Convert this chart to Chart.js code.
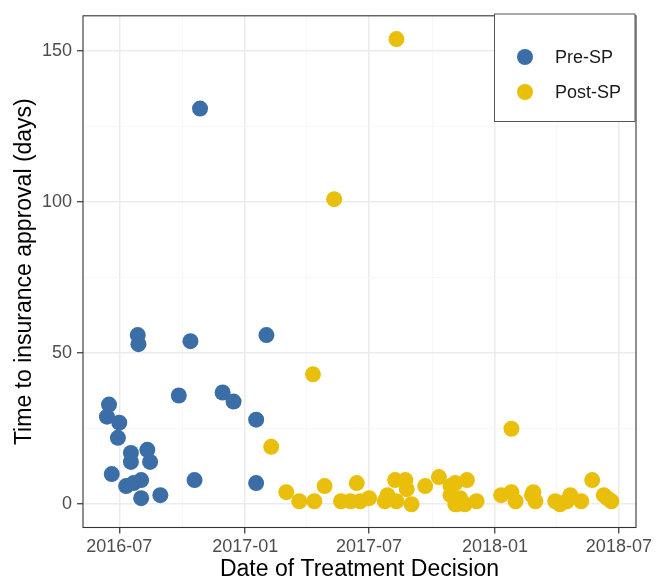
<!DOCTYPE html>
<html><head><meta charset="utf-8">
<script src="https://cdn.jsdelivr.net/npm/chart.js@4"></script>
<style>html,body{margin:0;padding:0;background:#fff}</style>
</head><body>
<canvas id="c" width="656" height="583"></canvas>
<script>
const seriesNames = ["Pre-SP", "Post-SP"];
const preDates = ["2016-07-28","2016-07-29","2016-10-13","2017-02-01","2016-09-26","2016-11-29","2016-12-15","2017-01-17",
  "2016-06-16","2016-06-13","2016-07-01","2016-06-29","2016-07-18","2016-08-11","2016-07-18","2016-08-15",
  "2016-06-20","2016-10-19","2017-01-17","2016-07-11","2016-07-22","2016-08-02","2016-08-02","2016-08-30","2016-10-27"];
const preDays = [56,53,54,56,36,37,34,28,33,29,27,22,17,18,14,14,10,8,7,6,7,8,2,3,131];
const postDates = ["2017-08-10","2017-05-11","2017-04-10","2018-01-25","2017-02-08","2017-03-02","2017-03-21","2017-04-12",
  "2017-04-27","2017-05-21","2017-06-04","2017-06-13","2017-06-18","2017-07-01","2017-07-24","2017-07-28","2017-08-08",
  "2017-08-23","2017-08-10","2017-08-25","2017-09-01","2017-09-21","2017-10-11","2017-10-28","2017-11-04","2017-11-04",
  "2017-11-21","2017-10-28","2017-11-11","2017-11-06","2017-11-18","2017-12-05","2018-01-10","2018-01-25","2018-01-31",
  "2018-02-26","2018-02-24","2018-03-01","2018-03-30","2018-04-06","2018-04-21","2018-04-16","2018-05-07","2018-05-23",
  "2018-06-09","2018-06-20","2018-06-14"];
const postDays = [154,101,43,25,19,4,1,1,6,1,1,7,1,2,1,3,8,8,1,5,0,6,9,6,0,7,8,3,2,0,0,1,3,4,1,4,3,1,1,0,3,1,1,8,3,1,2];
const xTickLabels = ["2016-07","2017-01","2017-07","2018-01","2018-07"];
const xMinorLabels = ["2016-10","2017-04","2017-10","2018-04"];
const yTickValues = [0,50,100,150];
const yMinorValues = [25,75,125];
const xRange = ["2016-05-09","2018-07-26"];
const yRange = [-7.7,161.7];
const colors = ["#3B6DA7","#EABF0B"];

function dayNum(s){ const p=s.split("-").map(Number); return Date.UTC(p[0],p[1]-1,p[2]||1)/86400000; }
function dayLabel(v){ const d=new Date(v*86400000); return d.getUTCFullYear()+"-"+String(d.getUTCMonth()+1).padStart(2,"0"); }
const xMajor = xTickLabels.map(dayNum), xMinor = xMinorLabels.map(dayNum);
const FONT = "'Liberation Sans', Arial, Helvetica, sans-serif";

const panelPlugin = {
  id: 'panel',
  afterDraw(chart){
    const {ctx, chartArea:a} = chart;
    ctx.save();
    ctx.strokeStyle = '#333333'; ctx.lineWidth = 1.1;
    ctx.strokeRect(a.left, a.top, a.right-a.left, a.bottom-a.top);
    const bx=494.5, by=14, bw=140.5, bh=107.5;
    ctx.fillStyle='#fff'; ctx.fillRect(bx,by,bw,bh);
    ctx.strokeStyle='#555555'; ctx.lineWidth=1; ctx.strokeRect(bx,by,bw,bh);
    chart.data.datasets.forEach((ds,i)=>{
      const cy = 57 + i*35;
      ctx.fillStyle = ds.backgroundColor;
      ctx.beginPath(); ctx.arc(525, cy, 8, 0, Math.PI*2); ctx.fill();
      ctx.fillStyle = '#1a1a1a'; ctx.font = '18px '+FONT;
      ctx.textBaseline='middle'; ctx.textAlign='left';
      ctx.fillText(ds.label, 555, cy+1);
    });
    ctx.restore();
  }
};

new Chart(document.getElementById('c'), {
  type: 'scatter',
  data: {
    datasets: [
      { label: seriesNames[0], data: preDates.map((d,i)=>({x:dayNum(d), y:preDays[i]})),
        backgroundColor: colors[0], borderWidth: 0, pointRadius: 8, pointHoverRadius: 8 },
      { label: seriesNames[1], data: postDates.map((d,i)=>({x:dayNum(d), y:postDays[i]})),
        backgroundColor: colors[1], borderWidth: 0, pointRadius: 8, pointHoverRadius: 8 }
    ]
  },
  options: {
    responsive: false, animation: false, devicePixelRatio: 1, events: [],
    layout: { padding: { left: 0, right: 20, top: 13.5, bottom: 0 } },
    plugins: { legend: { display: false }, tooltip: { enabled: false } },
    scales: {
      x: {
        type: 'linear', min: dayNum(xRange[0]), max: dayNum(xRange[1]),
        afterBuildTicks: s => { s.ticks = [...xMajor, ...xMinor].sort((a,b)=>a-b).map(v=>({value:v})); },
        afterFit: s => { s.height = 55.5; },
        border: { display: false },
        grid: {
          color: c => xMajor.includes(c.tick && c.tick.value) ? '#EBEBEB' : '#F5F5F5',
          lineWidth: c => xMajor.includes(c.tick && c.tick.value) ? 1.5 : 0.8,
          tickColor: c => xMajor.includes(c.tick && c.tick.value) ? '#333333' : 'rgba(0,0,0,0)',
          tickLength: 6, tickWidth: 1.2
        },
        ticks: {
          autoSkip: false, maxRotation: 0, padding: 3, color: '#4D4D4D',
          font: { family: FONT, size: 18 },
          callback: v => xMajor.includes(v) ? dayLabel(v) : ''
        },
        title: { display: true, text: 'Date of Treatment Decision', color: '#000',
          font: { family: FONT, size: 23 }, padding: { top: 0, bottom: 0 } }
      },
      y: {
        min: yRange[0], max: yRange[1],
        afterBuildTicks: s => { s.ticks = [...yTickValues, ...yMinorValues].sort((a,b)=>a-b).map(v=>({value:v})); },
        afterFit: s => { s.width = 83; },
        border: { display: false },
        grid: {
          color: c => yTickValues.includes(c.tick && c.tick.value) ? '#EBEBEB' : '#F5F5F5',
          lineWidth: c => yTickValues.includes(c.tick && c.tick.value) ? 1.5 : 0.8,
          tickColor: c => yTickValues.includes(c.tick && c.tick.value) ? '#333333' : 'rgba(0,0,0,0)',
          tickLength: 6, tickWidth: 1.2
        },
        ticks: {
          autoSkip: false, padding: 5, color: '#4D4D4D',
          font: { family: FONT, size: 18 },
          callback: v => yTickValues.includes(v) ? String(v) : ''
        },
        title: { display: true, text: 'Time to insurance approval (days)', color: '#000',
          font: { family: FONT, size: 23 }, padding: { top: 10.5, bottom: 0 } }
      }
    }
  },
  plugins: [panelPlugin]
});
</script>
</body></html>
